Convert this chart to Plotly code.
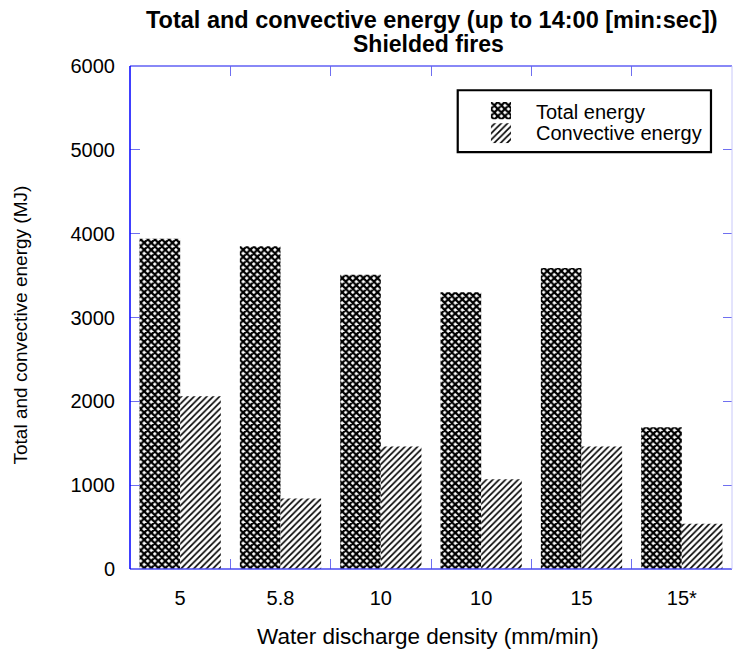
import plotly.graph_objects as go

categories = ["5", "5.8", "10", "10", "15", "15*"]
total_energy = [3940, 3850, 3510, 3300, 3590, 1690]
convective_energy = [2060, 840, 1460, 1070, 1460, 540]
y_ticks = [0, 1000, 2000, 3000, 4000, 5000, 6000]
series_names = ["Total energy", "Convective energy"]

xpos = list(range(len(categories)))
FONT = "Liberation Sans, Arial, sans-serif"
TICKC = "#6f6ff0"
FS = 20

# plot-area geometry in pixels (for placing decorations)
L, R, T, B = 130.3, 731.7, 65.7, 569.5
def px(x):
    return (x - L) / (R - L)
def py(y):
    return (B - y) / (B - T)

PAT_TOTAL = dict(shape="x", size=5, solidity=0.7, fgopacity=1, fgcolor="black", bgcolor="white")
PAT_CONV = dict(shape="/", size=4.5, solidity=0.36, fgopacity=1, fgcolor="black", bgcolor="white")

fig = go.Figure()
fig.add_trace(go.Bar(
    x=xpos, y=total_energy, name=series_names[0], showlegend=False,
    marker=dict(color="white", line=dict(width=0), pattern=PAT_TOTAL),
))
fig.add_trace(go.Bar(
    x=xpos, y=convective_energy, name=series_names[1], showlegend=False,
    marker=dict(color="white", line=dict(width=0), pattern=PAT_CONV),
))

# legend swatches on a hidden auxiliary axis
fig.add_trace(go.Bar(x=[0], y=[17.3], base=[0], width=[1], offset=-0.5,
                     xaxis="x3", yaxis="y3", showlegend=False, hoverinfo="skip",
                     marker=dict(color="white", line=dict(width=0), pattern=PAT_TOTAL)))
fig.add_trace(go.Bar(x=[0], y=[20], base=[21.3], width=[1], offset=-0.5,
                     xaxis="x3", yaxis="y3", showlegend=False, hoverinfo="skip",
                     marker=dict(color="white", line=dict(width=0), pattern=PAT_CONV)))

fig.add_trace(go.Scatter(x=[None], y=[None], xaxis="x2", yaxis="y2",
                         showlegend=False, hoverinfo="skip"))

fig.update_layout(
    width=733, height=655,
    margin=dict(l=130.3, r=733 - 731.7, t=65.7, b=655 - 569.5, pad=0, autoexpand=False),
    paper_bgcolor="white", plot_bgcolor="white",
    barmode="group", bargap=0.19, bargroupgap=0,
    font=dict(family=FONT, size=FS, color="black"),
    showlegend=False,
    xaxis=dict(
        range=[-0.5, 5.5], automargin=False,
        tickmode="array", tickvals=xpos, ticktext=categories,
        ticks="", showgrid=False, zeroline=False, showline=False,
        tickfont=dict(family=FONT, size=FS),
        ticklabelstandoff=15,
        minor=dict(tickmode="array", tickvals=[0.5, 1.5, 2.5, 3.5, 4.5],
                   ticks="inside", ticklen=10, tickcolor=TICKC, tickwidth=1),
    ),
    yaxis=dict(
        range=[0, 6000], tickmode="array", tickvals=y_ticks, automargin=False,
        ticks="inside", ticklen=10, tickcolor=TICKC, tickwidth=1,
        showgrid=False, zeroline=False, showline=False,
        tickfont=dict(family=FONT, size=FS),
        ticklabelstandoff=14,
    ),
    xaxis2=dict(
        overlaying="x", side="top", range=[-0.5, 5.5], showticklabels=False,
        tickmode="array", tickvals=[0.5, 1.5, 2.5, 3.5, 4.5], automargin=False,
        ticks="inside", ticklen=10, tickcolor=TICKC, showgrid=False, zeroline=False,
    ),
    yaxis2=dict(
        overlaying="y", side="right", range=[0, 6000], showticklabels=False,
        tickmode="array", tickvals=y_ticks, automargin=False,
        ticks="inside", ticklen=9, tickcolor=TICKC, showgrid=False, zeroline=False,
    ),
    xaxis3=dict(domain=[px(490.7), px(511)], range=[-0.5, 0.5], visible=False,
                anchor="y3", fixedrange=True),
    yaxis3=dict(domain=[py(143), py(101.7)], range=[41.3, 0], visible=False,
                anchor="x3", fixedrange=True),
    annotations=[
        dict(text="<b>Total and convective energy (up to 14:00 [min:sec])</b>",
             xref="paper", yref="paper", x=px(432), y=py(19.5),
             xanchor="center", yanchor="middle", showarrow=False,
             font=dict(family=FONT, size=23.5)),
        dict(text="<b>Shielded fires</b>",
             xref="paper", yref="paper", x=px(429), y=py(44),
             xanchor="center", yanchor="middle", showarrow=False,
             font=dict(family=FONT, size=23)),
        dict(text="Water discharge density (mm/min)", xref="paper", yref="paper",
             x=px(428), y=py(637), xanchor="center", yanchor="middle", showarrow=False,
             font=dict(family=FONT, size=22.5)),
        dict(text="Total and convective energy (MJ)", xref="paper", yref="paper",
             x=px(21), y=py(325), xanchor="center", yanchor="middle", showarrow=False,
             textangle=-90, font=dict(family=FONT, size=19)),
        dict(text=series_names[0], xref="paper", yref="paper", x=px(534), y=py(111.7),
             xanchor="left", yanchor="middle", showarrow=False,
             font=dict(family=FONT, size=FS)),
        dict(text=series_names[1], xref="paper", yref="paper", x=px(534), y=py(133.3),
             xanchor="left", yanchor="middle", showarrow=False,
             font=dict(family=FONT, size=FS)),
    ],
    shapes=[
        dict(type="rect", xref="paper", yref="paper", x0=px(457.7), x1=px(710.7),
             y0=py(152), y1=py(90), line=dict(color="black", width=2.2),
             fillcolor="rgba(0,0,0,0)", layer="above"),
        dict(type="line", xref="paper", yref="paper", x0=0, x1=1, y0=1, y1=1,
             line=dict(color="#6060f4", width=1.5)),
        dict(type="line", xref="paper", yref="paper", x0=0, x1=1, y0=0, y1=0,
             line=dict(color="#4848f0", width=1.5)),
        dict(type="line", xref="paper", yref="paper", x0=1, x1=1, y0=0, y1=1,
             line=dict(color="#c8c8fa", width=1)),
        dict(type="line", xref="paper", yref="paper", x0=0, x1=0, y0=0, y1=1,
             line=dict(color="#0000ff", width=1.5)),
    ],
)

fig.write_html("out.html", config={"displayModeBar": False, "staticPlot": True},
               post_script="document.body.style.margin='0';")
